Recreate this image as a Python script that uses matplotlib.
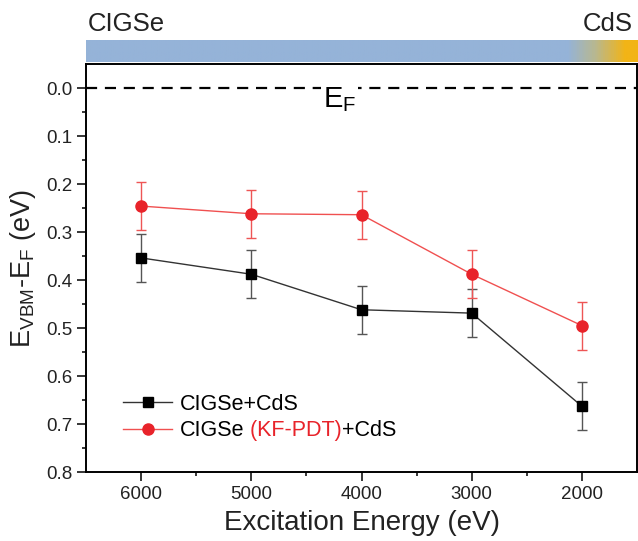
import numpy as np
import matplotlib
matplotlib.use("Agg")
import matplotlib.pyplot as plt
from matplotlib.colors import LinearSegmentedColormap
from matplotlib.lines import Line2D

plt.rcParams['font.family'] = ['Liberation Sans', 'DejaVu Sans']
plt.rcParams['mathtext.fontset'] = 'custom'
plt.rcParams['mathtext.rm'] = 'Liberation Sans'

# data
energy = [6000, 5000, 4000, 3000, 2000]
ref_vals = [0.354, 0.388, 0.462, 0.469, 0.663]       # CIGSe+CdS
ref_err = [0.05, 0.05, 0.05, 0.05, 0.05]
kf_vals = [0.246, 0.262, 0.264, 0.388, 0.495]        # CIGSe (KF-PDT)+CdS
kf_err = [0.05, 0.05, 0.05, 0.05, 0.05]

W, H = 638, 541
fig = plt.figure(figsize=(W / 100, H / 100), dpi=100)

# main axes
ax = fig.add_axes([86 / W, 1 - 472 / H, (637 - 86) / W, (472 - 64) / H])

ax.axhline(0, color='black', lw=1.6, ls=(0, (5, 3.5)), zorder=1)
ax.text(4200, 0.024, r'E$_{\mathregular{F}}$', fontsize=21, ha='center', va='center',
        bbox=dict(facecolor='white', edgecolor='none', pad=1), zorder=2)

ax.errorbar(energy, ref_vals, yerr=ref_err, color='#333333', lw=1.0,
            marker='s', ms=6.5, mfc='black', mec='black',
            ecolor='#555555', elinewidth=1.0, capsize=3.5, capthick=1.0, zorder=3)
ax.errorbar(energy, kf_vals, yerr=kf_err, color='#f05050', lw=1.0,
            marker='o', ms=8, mfc='#e8232a', mec='#e8232a',
            ecolor='#ee5555', elinewidth=1.0, capsize=3.5, capthick=1.0, zorder=3)

ax.set_xlim(6500, 1500)
ax.set_ylim(0.8, -0.05)
ax.set_xticks(energy)
ax.set_xticks([5500, 4500, 3500, 2500], minor=True)
ax.set_yticks(np.arange(0, 0.81, 0.1))
ax.set_yticks(np.arange(0.05, 0.8, 0.1), minor=True)
ax.yaxis.set_major_formatter(matplotlib.ticker.FormatStrFormatter('%.1f'))
ax.tick_params(which='major', direction='out', length=6.3, width=1.1, labelsize=13.5,
               labelcolor='#222222')
ax.tick_params(which='minor', direction='out', length=3.1, width=1.1)
for s in ax.spines.values():
    s.set_linewidth(1.4)

ax.set_xlabel('Excitation Energy (eV)', fontsize=20, labelpad=5, color='#222222')
ax.set_ylabel(r'E$_{\mathregular{VBM}}$-E$_{\mathregular{F}}$ (eV)', fontsize=19.5,
              labelpad=6, color='#222222')

# legend without error bars, red part of the second label added afterwards
handles = [Line2D([], [], color='#333333', lw=1.0, marker='s', ms=6.5, mfc='black', mec='black'),
           Line2D([], [], color='#f05050', lw=1.0, marker='o', ms=8, mfc='#e8232a', mec='#e8232a')]
leg = ax.legend(handles, ['CIGSe+CdS', 'CIGSe'], loc='lower left',
                bbox_to_anchor=(0.067, 0.075), frameon=False,
                fontsize=15.5, borderpad=0, borderaxespad=0, handlelength=2.3,
                handletextpad=0.35, labelspacing=0.25)

# top gradient bar CIGSe -> CdS
bar = fig.add_axes([86 / W, 1 - 62 / H, (638 - 86) / W, 22 / H])
blue = '#95b3d8'
yellow = '#f2b416'
cmap = LinearSegmentedColormap.from_list('bar', [(0, blue), (0.875, blue), (0.925, '#b8b890'), (0.98, yellow), (1, yellow)])
grad = np.linspace(0, 1, 600).reshape(1, -1)
bar.imshow(grad, aspect='auto', cmap=cmap, extent=(0, 1, 0, 1))
bar.set_axis_off()

fig.text(88 / W, 1 - 24 / H, 'CIGSe', fontsize=18.5, ha='left', va='center', color='#222222')
fig.text(633 / W, 1 - 24 / H, 'CdS', fontsize=18.5, ha='right', va='center', color='#222222')

# place " (KF-PDT)" and "+CdS" right after the legend text
fig.canvas.draw()
inv = fig.transFigure.inverted()
bb = leg.get_texts()[1].get_window_extent()
x0, y0 = inv.transform((bb.x1, bb.y0))
t2 = fig.text(x0, y0, ' (KF-PDT)', fontsize=15.5, color='#e8232a', ha='left', va='bottom')
fig.canvas.draw()
bb2 = t2.get_window_extent()
x1, _ = inv.transform((bb2.x1, bb2.y0))
fig.text(x1, y0, '+CdS', fontsize=15.5, color='black', ha='left', va='bottom')

fig.savefig('out.png', dpi=100)
